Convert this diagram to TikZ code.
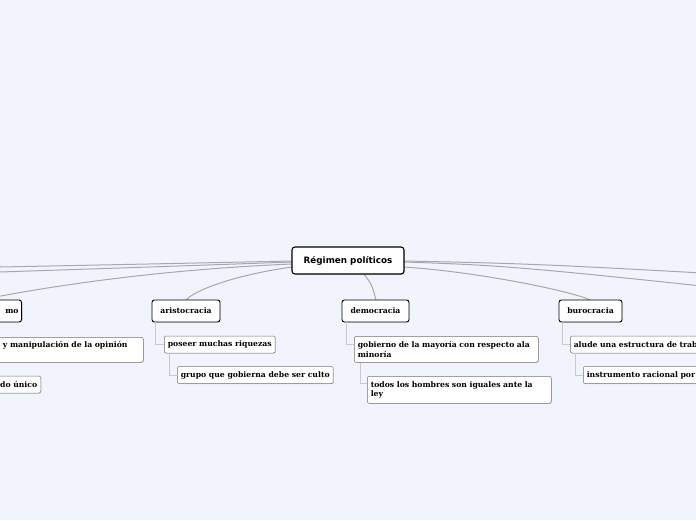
\documentclass[tikz,border=0pt]{standalone}
\usepackage{fontspec}
\setmainfont{DejaVu Serif}
\setsansfont{DejaVu Sans}
\usetikzlibrary{shadows}
\definecolor{bg}{RGB}{242,244,253}
\definecolor{conn}{RGB}{168,168,172}
\definecolor{subconn}{RGB}{200,200,206}
\tikzset{
  root/.style={draw=black, line width=1.1pt, rounded corners=3pt, fill=white,
    font=\sffamily\bfseries\fontsize{8.8}{10}\selectfont, minimum width=112pt, minimum height=27pt, inner sep=3pt,
    drop shadow={shadow xshift=0.8pt, shadow yshift=-0.8pt, opacity=0.25}},
  lone/.style={draw=black, line width=0.9pt, rounded corners=2.5pt, fill=white,
    font=\bfseries\fontsize{7.7}{9}\selectfont, minimum height=22pt, inner sep=3pt,
    drop shadow={shadow xshift=0.7pt, shadow yshift=-0.7pt, opacity=0.25}},
  ltwo/.style={draw=black!55, line width=0.5pt, rounded corners=2pt, fill=white,
    font=\bfseries\fontsize{7.7}{9.6}\selectfont, inner sep=3.5pt, align=left,
    drop shadow={shadow xshift=0.7pt, shadow yshift=-0.7pt, opacity=0.25}},
  link/.style={draw=conn, line width=1pt},
  sublink/.style={draw=subconn, line width=0.6pt},
}
\begin{document}
\begin{tikzpicture}[x=1pt,y=-1pt]
\fill[bg] (0,0) rectangle (696,520);
\useasboundingbox (0,0) rectangle (696,520);
% off-canvas targets
\coordinate (offLa) at (-300,273);
\coordinate (offLb) at (-300,282);
\coordinate (offRa) at (996,290);
\coordinate (offRb) at (996,318);
% root connectors
\draw[link] (292,261) .. controls (150,264) .. (offLa);
\draw[link] (292,262) .. controls (180,266) .. (offLb);
\draw[link] (292,264) .. controls (150,270) and (40,288) .. (-20,300);
\draw[link] (292,267) .. controls (235,275) and (195,290) .. (186,300);
\draw[link] (364,274) .. controls (372,285) .. (376,300);
\draw[link] (404,267) .. controls (480,272) and (575,292) .. (590,300);
\draw[link] (404,261) .. controls (550,264) .. (offRa);
\draw[link] (404,262) .. controls (520,266) .. (offRb);
% root
\node[root] (reg) at (348,260.5) {Régimen políticos};
% level 1
\node[lone, anchor=east, text width=70pt, align=right] (mo) at (22,311) {mo\hspace{8pt}};
\node[lone, minimum width=68pt] (ari) at (186,311) {aristocracia};
\node[lone, minimum width=67pt] (dem) at (375.5,311) {democracia};
\node[lone, minimum width=63pt] (bur) at (590.5,311) {burocracia};
% level 2
\node[ltwo, anchor=north west, text width=142pt, minimum height=25pt] (mo1) at (-6,337) {, y manipulación de la opinión\\[-2pt]\strut};
\node[ltwo, anchor=east, text width=60pt, align=right, minimum height=17pt] (mo2) at (41,384.5) {do único};
\node[ltwo, anchor=west, minimum height=17pt] (ari1) at (164,344.5) {poseer muchas riquezas};
\node[ltwo, anchor=west, minimum height=17pt] (ari2) at (177,375) {grupo que gobierna debe ser culto};
\node[ltwo, anchor=north west, text width=177pt, minimum height=26pt] (dem1) at (354,336) {gobierno de la mayoría con respecto ala\\minoría};
\node[ltwo, anchor=north west, text width=177pt, minimum height=27pt] (dem2) at (367,376) {todos los hombres son iguales ante la\\ley};
\node[ltwo, anchor=west, minimum height=17pt, text width=180pt] (bur1) at (570,344.5) {alude una estructura de trab};
\node[ltwo, anchor=west, minimum height=17pt, text width=180pt] (bur2) at (583,375) {instrumento racional por};
% sub connectors
\draw[sublink] ([xshift=4pt]ari.south west) |- (ari1.west);
\draw[sublink] ([xshift=5pt]ari1.south west) |- (ari2.west);
\draw[sublink] ([xshift=5pt]dem.south west) |- ([yshift=5pt]dem1.west);
\draw[sublink] ([xshift=6pt]dem1.south west) |- ([yshift=6pt]dem2.west);
\draw[sublink] ([xshift=4pt]bur.south west) |- (bur1.west);
\draw[sublink] ([xshift=5pt]bur1.south west) |- (bur2.west);
\end{tikzpicture}
\end{document}
